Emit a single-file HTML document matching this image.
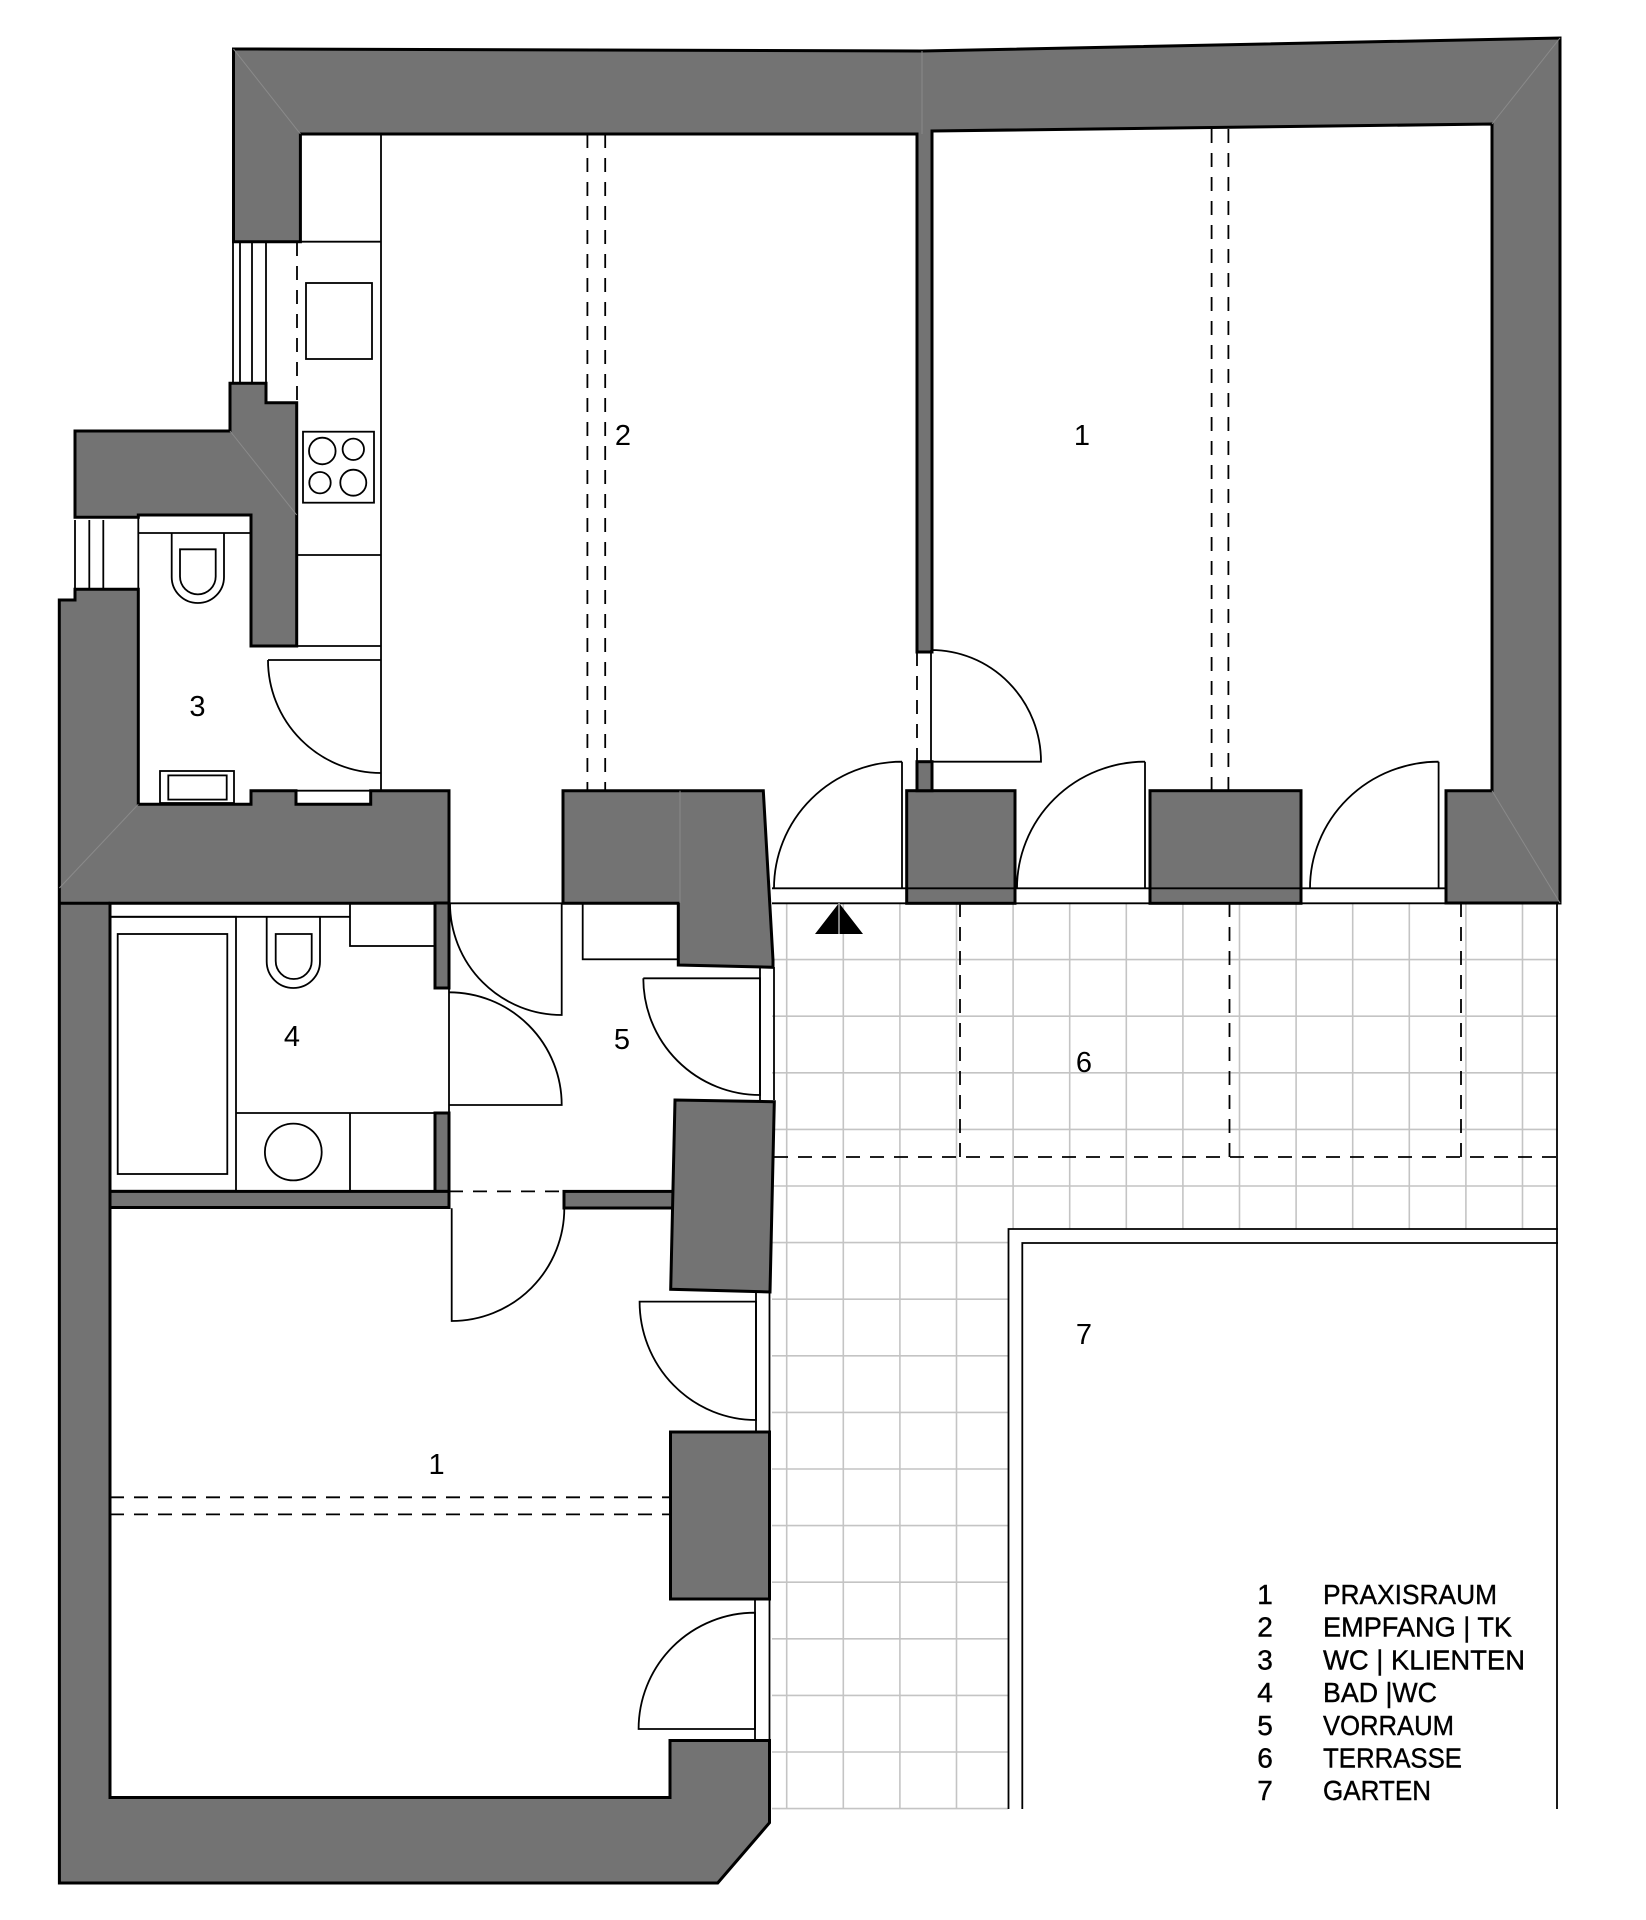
<!DOCTYPE html>
<html><head><meta charset="utf-8"><style>
html,body{margin:0;padding:0;background:#fff}
svg{display:block}
text{font-family:"Liberation Sans",sans-serif;fill:#000}
</style></head><body>
<svg width="1646" height="1920" viewBox="0 0 1646 1920" xmlns="http://www.w3.org/2000/svg">
<rect width="1646" height="1920" fill="#fff"/>

<!-- terrace grid -->
<g stroke="#c4c4c4" stroke-width="1.6">
<line x1="786.7" y1="903" x2="786.7" y2="1809"/>
<line x1="843.3" y1="903" x2="843.3" y2="1809"/>
<line x1="899.9" y1="903" x2="899.9" y2="1809"/>
<line x1="956.5" y1="903" x2="956.5" y2="1809"/>
<line x1="1013.1" y1="903" x2="1013.1" y2="1229"/>
<line x1="1069.7" y1="903" x2="1069.7" y2="1229"/>
<line x1="1126.3" y1="903" x2="1126.3" y2="1229"/>
<line x1="1182.9" y1="903" x2="1182.9" y2="1229"/>
<line x1="1239.5" y1="903" x2="1239.5" y2="1229"/>
<line x1="1296.1" y1="903" x2="1296.1" y2="1229"/>
<line x1="1352.7" y1="903" x2="1352.7" y2="1229"/>
<line x1="1409.3" y1="903" x2="1409.3" y2="1229"/>
<line x1="1465.9" y1="903" x2="1465.9" y2="1229"/>
<line x1="1522.5" y1="903" x2="1522.5" y2="1229"/>
<line x1="772" y1="959.6" x2="1558" y2="959.6"/>
<line x1="772" y1="1016.2" x2="1558" y2="1016.2"/>
<line x1="772" y1="1072.8" x2="1558" y2="1072.8"/>
<line x1="772" y1="1129.4" x2="1558" y2="1129.4"/>
<line x1="772" y1="1186" x2="1558" y2="1186"/>
<line x1="772" y1="1242.6" x2="1008" y2="1242.6"/>
<line x1="772" y1="1299.2" x2="1008" y2="1299.2"/>
<line x1="772" y1="1355.8" x2="1008" y2="1355.8"/>
<line x1="772" y1="1412.4" x2="1008" y2="1412.4"/>
<line x1="772" y1="1469" x2="1008" y2="1469"/>
<line x1="772" y1="1525.6" x2="1008" y2="1525.6"/>
<line x1="772" y1="1582.2" x2="1008" y2="1582.2"/>
<line x1="772" y1="1638.8" x2="1008" y2="1638.8"/>
<line x1="772" y1="1695.4" x2="1008" y2="1695.4"/>
<line x1="772" y1="1752" x2="1008" y2="1752"/>
<line x1="772" y1="1808.6" x2="1008" y2="1808.6"/>
</g>

<!-- garden -->
<g stroke="#000" stroke-width="1.8" fill="none">
<polyline points="1008.5,1809 1008.5,1229 1558,1229"/>
<polyline points="1022.3,1809 1022.3,1243 1558,1243"/>
<line x1="1557" y1="903" x2="1557" y2="1809"/>
</g>

<!-- dashed lines -->
<g stroke="#000" stroke-width="1.8" stroke-dasharray="14,10" fill="none">
<line x1="587.4" y1="134" x2="587.4" y2="790"/>
<line x1="605.2" y1="134" x2="605.2" y2="790"/>
<line x1="1211.6" y1="129" x2="1211.6" y2="790"/>
<line x1="1228.4" y1="129" x2="1228.4" y2="790"/>
<line x1="917" y1="652" x2="917" y2="762"/>
<line x1="960" y1="903" x2="960" y2="1157"/>
<line x1="1229.5" y1="903" x2="1229.5" y2="1157"/>
<line x1="1461" y1="903" x2="1461" y2="1157"/>
<line x1="774" y1="1157" x2="1558" y2="1157"/>
<line x1="110" y1="1497.3" x2="670" y2="1497.3"/>
<line x1="110" y1="1514.4" x2="670" y2="1514.4"/>
<line x1="297" y1="242" x2="297" y2="403"/>
<line x1="449" y1="1191.4" x2="564" y2="1191.4"/>
</g>
<line x1="112" y1="1191" x2="236" y2="1191" stroke="#d01010" stroke-width="2" stroke-dasharray="10,14"/>

<!-- walls -->
<g fill="#737373" stroke="#000" stroke-width="3" stroke-linejoin="miter">
<polygon points="233.5,49 922,51 1560,38 1560,903 1446,903 1446,790.7 1492,790.7 1492,124 932,131 932,652 917,652 917,134 300.4,134 300.4,241.7 233.5,241.7"/>
<polygon points="75,431 230,431 230,383.3 266,383.3 266,402.7 296.7,402.7 296.7,646 251,646 251,515 138.3,515 138.3,517.3 75,517.3"/>
<polygon points="59.3,600 75,600 75,589.3 138.3,589.3 138.3,804.3 251,804.3 251,790.7 296,790.7 296,804.3 370.7,804.3 370.7,790.7 449,790.7 449,903.2 110,903.2 110,1797.5 670,1797.5 670,1740.5 769.5,1740.5 769.5,1822.7 717.7,1883 59.4,1883"/>
<polygon points="563,790.7 763.3,790.7 773,960 773,967.3 678.3,965 678.3,903.3 563,903.3"/>
<rect x="906.7" y="790.7" width="108.3" height="112.6"/>
<rect x="917" y="761.7" width="15" height="29"/>
<rect x="1150" y="790.7" width="151" height="112.6"/>
<rect x="435" y="903" width="14" height="85"/>
<rect x="435" y="1113" width="14" height="78.4"/>
<rect x="110" y="1191.4" width="339" height="16.1"/>
<rect x="564" y="1191.4" width="109" height="16.6"/>
<polygon points="675,1100 774.3,1101.7 770,1292 670.7,1289.3"/>
<rect x="670.5" y="1432" width="99" height="167"/>
</g>
<g stroke="#8a8a8a" stroke-width="1" fill="none">
<line x1="233.5" y1="49" x2="300.4" y2="134"/>
<line x1="1560" y1="38" x2="1492" y2="124"/>
<line x1="1560" y1="903" x2="1492" y2="790.7"/>
<line x1="59.4" y1="888" x2="138.3" y2="804.3"/>
<line x1="230" y1="431" x2="296.7" y2="515"/>
<line x1="922" y1="51" x2="922" y2="134"/>
<line x1="680" y1="790.7" x2="680" y2="903"/>
</g>
<line x1="59.4" y1="903.2" x2="110" y2="903.2" stroke="#000" stroke-width="3"/>

<!-- fixtures -->
<g stroke="#000" stroke-width="1.8" fill="none">
<line x1="240" y1="241.7" x2="240" y2="383.3"/>
<line x1="252" y1="241.7" x2="252" y2="383.3"/>
<line x1="266" y1="241.7" x2="266" y2="383.3"/>
<line x1="233" y1="241.7" x2="233" y2="383.3"/>
<line x1="381" y1="134" x2="381" y2="790.7"/>
<line x1="297" y1="241.7" x2="381" y2="241.7"/>
<rect x="306" y="283" width="66" height="76"/>
<rect x="303" y="431.7" width="71" height="71"/>
<circle cx="322.3" cy="451" r="13.3"/>
<circle cx="353.3" cy="449.3" r="10.7"/>
<circle cx="320" cy="482.7" r="10.7"/>
<circle cx="353.3" cy="482.7" r="13"/>
<line x1="296.7" y1="555" x2="381" y2="555"/>
<line x1="296.7" y1="646" x2="381" y2="646"/>
<line x1="75" y1="520" x2="75" y2="589"/>
<line x1="89.3" y1="520" x2="89.3" y2="589"/>
<line x1="103.3" y1="520" x2="103.3" y2="589"/>
<line x1="138.3" y1="517" x2="138.3" y2="589"/>
<line x1="138.3" y1="533" x2="251" y2="533"/>
<path d="M171.7 533 V577 A26.15 26 0 0 0 224 577 V533"/>
<path d="M180 549.3 V576.5 A17.85 17.85 0 0 0 215.7 576.5 V549.3 Z"/>
<rect x="160" y="771" width="74" height="32"/>
<rect x="168.3" y="775.4" width="58.4" height="24.2"/>
<line x1="296" y1="790.7" x2="370.7" y2="790.7"/>
<line x1="268" y1="660" x2="381" y2="660"/>
<path d="M268 660 A113 113 0 0 0 381 773"/>
<line x1="110" y1="916.8" x2="350" y2="916.8"/>
<rect x="350" y="903" width="85" height="43"/>
<rect x="110" y="916.8" width="126" height="274"/>
<rect x="117.7" y="934" width="109.6" height="240"/>
<path d="M266.7 916.8 V961.5 A26.65 26.5 0 0 0 320 961.5 V916.8"/>
<path d="M275.7 934 V961 A18 18 0 0 0 311.7 961 V934 Z"/>
<line x1="236" y1="1113" x2="435" y2="1113"/>
<line x1="350" y1="1113" x2="350" y2="1191"/>
<circle cx="293.3" cy="1152" r="28.4"/>
<line x1="449" y1="903.3" x2="563" y2="903.3"/>
<path d="M450 903.3 A111.7 111.7 0 0 0 561.7 1015 V903.3"/>
<path d="M449 992.3 A112.7 112.7 0 0 1 561.7 1105 H449"/>
<line x1="449" y1="988" x2="449" y2="1113"/>
<rect x="582.7" y="903.3" width="95.6" height="56"/>
<path d="M643.3 978.3 A116.7 116.7 0 0 0 760 1095 V978.3 H643.3"/>
<line x1="760" y1="967" x2="760" y2="1100"/>
<line x1="774" y1="967" x2="774" y2="1100"/>
<path d="M564.3 1208.3 A112.7 112.7 0 0 1 451.7 1321 V1208.3"/>
<path d="M639.6 1301.6 A116.5 118.4 0 0 0 756 1420 V1301.6 Z"/>
<line x1="756" y1="1291" x2="756" y2="1432"/>
<line x1="769.5" y1="1291" x2="769.5" y2="1432"/>
<path d="M755 1612.7 A116.4 116.3 0 0 0 638.6 1729 H755 Z"/>
<line x1="755" y1="1599" x2="755" y2="1740"/>
<line x1="769.5" y1="1599" x2="769.5" y2="1740"/>
<line x1="769.5" y1="1740" x2="769.5" y2="1809"/>
<line x1="772" y1="888.3" x2="1446" y2="888.3"/>
<line x1="772" y1="903.3" x2="1558" y2="903.3"/>
<path d="M902 761.7 A128 126.6 0 0 0 774 888.3 M902 761.7 V888.3"/>
<path d="M931 650 A110 111.7 0 0 1 1041 761.7 H931 V650"/>
<path d="M1145 761.7 A128 126.6 0 0 0 1017 888.3 M1145 761.7 V888.3"/>
<path d="M1438.6 761.7 A128.6 126.6 0 0 0 1310 888.3 M1438.6 761.7 V888.3"/>
</g>
<polygon points="839,903 815,934 863,934" fill="#000"/>
<line x1="839" y1="903" x2="839" y2="934" stroke="#fff" stroke-width="1"/>

<!-- labels -->
<g font-size="29" text-anchor="middle">
<text x="623" y="445">2</text>
<text x="1082" y="445">1</text>
<text x="197.5" y="716">3</text>
<text x="292" y="1046">4</text>
<text x="622" y="1049">5</text>
<text x="1084" y="1072">6</text>
<text x="1084" y="1344">7</text>
<text x="436.6" y="1474">1</text>
</g>
<g font-size="28" stroke="#000" stroke-width="0.4">
<text x="1265" y="1604" text-anchor="middle">1</text>
<text x="1265" y="1636.7" text-anchor="middle">2</text>
<text x="1265" y="1669.4" text-anchor="middle">3</text>
<text x="1265" y="1702.1" text-anchor="middle">4</text>
<text x="1265" y="1734.8" text-anchor="middle">5</text>
<text x="1265" y="1767.5" text-anchor="middle">6</text>
<text x="1265" y="1800.2" text-anchor="middle">7</text>
<text x="1323" y="1604" textLength="174" lengthAdjust="spacingAndGlyphs">PRAXISRAUM</text>
<text x="1323" y="1636.7" textLength="189" lengthAdjust="spacingAndGlyphs">EMPFANG | TK</text>
<text x="1323" y="1669.4" textLength="202" lengthAdjust="spacingAndGlyphs">WC | KLIENTEN</text>
<text x="1323" y="1702.1" textLength="114" lengthAdjust="spacingAndGlyphs">BAD |WC</text>
<text x="1323" y="1734.8" textLength="131" lengthAdjust="spacingAndGlyphs">VORRAUM</text>
<text x="1323" y="1767.5" textLength="139" lengthAdjust="spacingAndGlyphs">TERRASSE</text>
<text x="1323" y="1800.2" textLength="108" lengthAdjust="spacingAndGlyphs">GARTEN</text>
</g>
</svg>
</body></html>
